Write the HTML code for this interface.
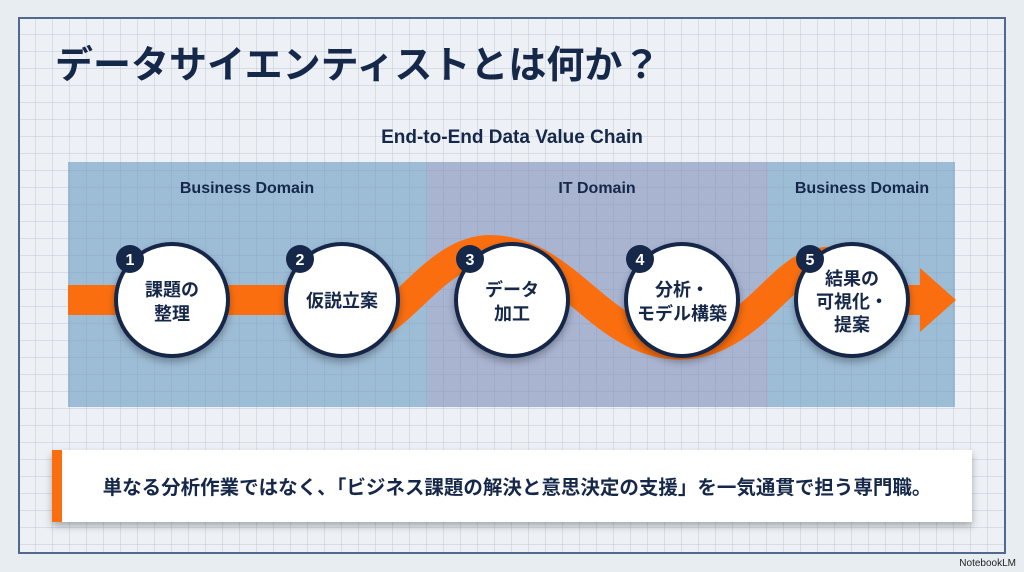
<!DOCTYPE html>
<html><head><meta charset="utf-8"><style>
html,body{margin:0;padding:0;background:#e8edf1;}
body{width:1024px;height:572px;overflow:hidden;position:relative;font-family:"Liberation Sans","Noto Sans CJK JP",sans-serif;}
</style></head><body>
<svg width="1024" height="572" viewBox="0 0 1024 572" xmlns="http://www.w3.org/2000/svg" style="position:absolute;left:0;top:0">
<defs>
<pattern id="g" x="19" y="18" width="17" height="17" patternUnits="userSpaceOnUse">
<path d="M17 0V17M0 17H17" stroke="#bfc9d6" stroke-width="1" fill="none"/>
</pattern>
<pattern id="g2" x="19" y="18" width="17" height="17" patternUnits="userSpaceOnUse">
<path d="M17 0V17M0 17H17" stroke="#7f9ab8" stroke-opacity="0.5" stroke-width="1" fill="none"/>
</pattern>
<filter id="sh" x="-20%" y="-20%" width="140%" height="150%"><feDropShadow dx="0" dy="4" stdDeviation="4" flood-color="#000" flood-opacity="0.3"/></filter>
</defs>
<rect x="19" y="18" width="986" height="535" fill="#edf1f5"/>
<rect x="19" y="18" width="986" height="535" fill="url(#g)"/>
<rect x="19" y="18" width="986" height="535" fill="none" stroke="#50698c" stroke-width="2"/>
<text x="55" y="78" font-size="38" font-weight="bold" fill="#16284a" font-family="Liberation Sans,Noto Sans CJK JP,sans-serif">データサイエンティストとは何か？</text>
<text x="512" y="143" font-size="19" font-weight="bold" fill="#16284a" text-anchor="middle" font-family="Liberation Sans,Noto Sans CJK JP,sans-serif">End-to-End Data Value Chain</text>
<rect x="68" y="162" width="359" height="245" fill="#9dbcd6"/>
<rect x="427" y="162" width="341" height="245" fill="#a9b4d1"/>
<rect x="768" y="162" width="187" height="245" fill="#9dbcd6"/>
<rect x="68" y="162" width="887" height="245" fill="url(#g2)"/>
<g font-size="16" font-weight="bold" fill="#16284a" text-anchor="middle" font-family="Liberation Sans,sans-serif">
<text x="247" y="193">Business Domain</text>
<text x="597" y="193">IT Domain</text>
<text x="862" y="193">Business Domain</text>
</g>
<path d="M68 300 L320 300" fill="none" stroke="#fa6e0f" stroke-width="30"/>
<path d="M345 330 C395 340 430 250 490 250 C545 250 580 300 620 325 C655 348 690 350 720 335 C770 310 790 260 830 262" fill="none" stroke="#fa6e0f" stroke-width="30"/>
<rect x="880" y="285" width="42" height="30" fill="#fa6e0f"/>
<polygon points="920,268 956,300 920,332" fill="#fa6e0f"/>
<g filter="url(#sh)">
<circle cx="172" cy="300" r="56" fill="#fff" stroke="#16284a" stroke-width="4"/>
<circle cx="342" cy="300" r="56" fill="#fff" stroke="#16284a" stroke-width="4"/>
<circle cx="512" cy="300" r="56" fill="#fff" stroke="#16284a" stroke-width="4"/>
<circle cx="682" cy="300" r="56" fill="#fff" stroke="#16284a" stroke-width="4"/>
<circle cx="852" cy="300" r="56" fill="#fff" stroke="#16284a" stroke-width="4"/>
</g>
<g fill="#16284a">
<circle cx="130" cy="259" r="14"/><circle cx="300" cy="259" r="14"/><circle cx="470" cy="259" r="14"/><circle cx="640" cy="259" r="14"/><circle cx="810" cy="259" r="14"/>
</g>
<g fill="#fff" font-size="16" font-weight="bold" text-anchor="middle" font-family="Liberation Sans,sans-serif">
<text x="130" y="265">1</text><text x="300" y="265">2</text><text x="470" y="265">3</text><text x="640" y="265">4</text><text x="810" y="265">5</text>
</g>
<g fill="#16284a" font-size="18" font-weight="bold" text-anchor="middle" font-family="Liberation Sans,Noto Sans CJK JP,sans-serif">
<text x="172" y="296">課題の</text><text x="172" y="320">整理</text>
<text x="342" y="307">仮説立案</text>
<text x="512" y="296">データ</text><text x="512" y="320">加工</text>
<text x="682" y="296">分析・</text><text x="682" y="320">モデル構築</text>
<text x="852" y="285">結果の</text><text x="852" y="308">可視化・</text><text x="852" y="331">提案</text>
</g>
<rect x="52" y="450" width="920" height="72" fill="#fff" filter="url(#sh)"/>
<rect x="52" y="450" width="10" height="72" fill="#fa6e0f"/>
<text x="517" y="494" font-size="19.5" font-weight="bold" fill="#16284a" text-anchor="middle" font-family="Liberation Sans,Noto Sans CJK JP,sans-serif">単なる分析作業ではなく、「ビジネス課題の解決と意思決定の支援」を一気通貫で担う専門職。</text>
<text x="1016" y="566" font-size="10" fill="#222" text-anchor="end" font-family="Liberation Sans,sans-serif">NotebookLM</text>
</svg>
</body></html>
